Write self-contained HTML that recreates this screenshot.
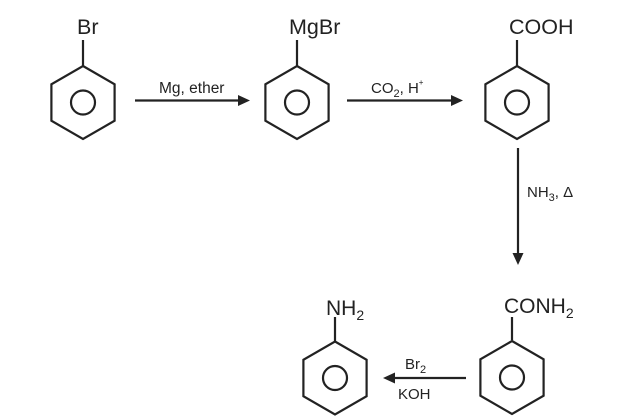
<!DOCTYPE html>
<html><head><style>
html,body{margin:0;padding:0;background:#fff;}
svg{display:block;}
text{font-family:"Liberation Sans",Arial,sans-serif;fill:#222;}
</style></head><body>
<svg width="639" height="418" viewBox="0 0 639 418" xmlns="http://www.w3.org/2000/svg">
<defs>
<g id="ring" fill="none" stroke="#222" stroke-width="2.2">
<polygon points="0,-36.5 31.6,-18.25 31.6,18.25 0,36.5 -31.6,18.25 -31.6,-18.25"/>
<circle r="12"/>
</g>
</defs>
<g stroke="#222" stroke-width="2.2" fill="none">
<line x1="83" y1="66" x2="83" y2="40"/>
<line x1="297" y1="66" x2="297" y2="40"/>
<line x1="517" y1="66" x2="517" y2="40"/>
<line x1="335" y1="341" x2="335" y2="317"/>
<line x1="512" y1="340" x2="512" y2="317"/>
<line x1="135" y1="100.5" x2="240" y2="100.5"/>
<line x1="347" y1="100.5" x2="454" y2="100.5"/>
<line x1="518" y1="148" x2="518" y2="256"/>
<line x1="466" y1="378" x2="392" y2="378"/>
</g>
<g fill="#222">
<polygon points="250,100.5 238,95 238,106"/>
<polygon points="463,100.5 451,95 451,106"/>
<polygon points="518,265 512.5,253 523.5,253"/>
<polygon points="383,378 395,372.5 395,383.5"/>
</g>
<use href="#ring" x="83" y="102.5"/>
<use href="#ring" x="297" y="102.5"/>
<use href="#ring" x="517" y="102.5"/>
<use href="#ring" x="335" y="378"/>
<use href="#ring" x="512" y="377.5"/>
<text x="77" y="34" font-size="21.5">Br</text>
<text x="289" y="34" font-size="21.5">MgBr</text>
<text x="509" y="34" font-size="21.5">COOH</text>
<text x="326" y="315" font-size="21">NH<tspan font-size="14" dy="5">2</tspan></text>
<text x="504" y="313" font-size="21">CONH<tspan font-size="14" dy="5">2</tspan></text>
<text x="159" y="93" font-size="15.5">Mg, ether</text>
<text x="371" y="93" font-size="15">CO<tspan font-size="11" dy="4">2</tspan><tspan dy="-4">, H</tspan><tspan font-size="8" dy="-8">+</tspan></text>
<text x="527" y="197" font-size="15">NH<tspan font-size="11" dy="4">3</tspan><tspan dy="-4">, Δ</tspan></text>
<text x="405" y="369" font-size="15">Br<tspan font-size="11" dy="4">2</tspan></text>
<text x="398" y="399" font-size="15">KOH</text>
</svg>
</body></html>
